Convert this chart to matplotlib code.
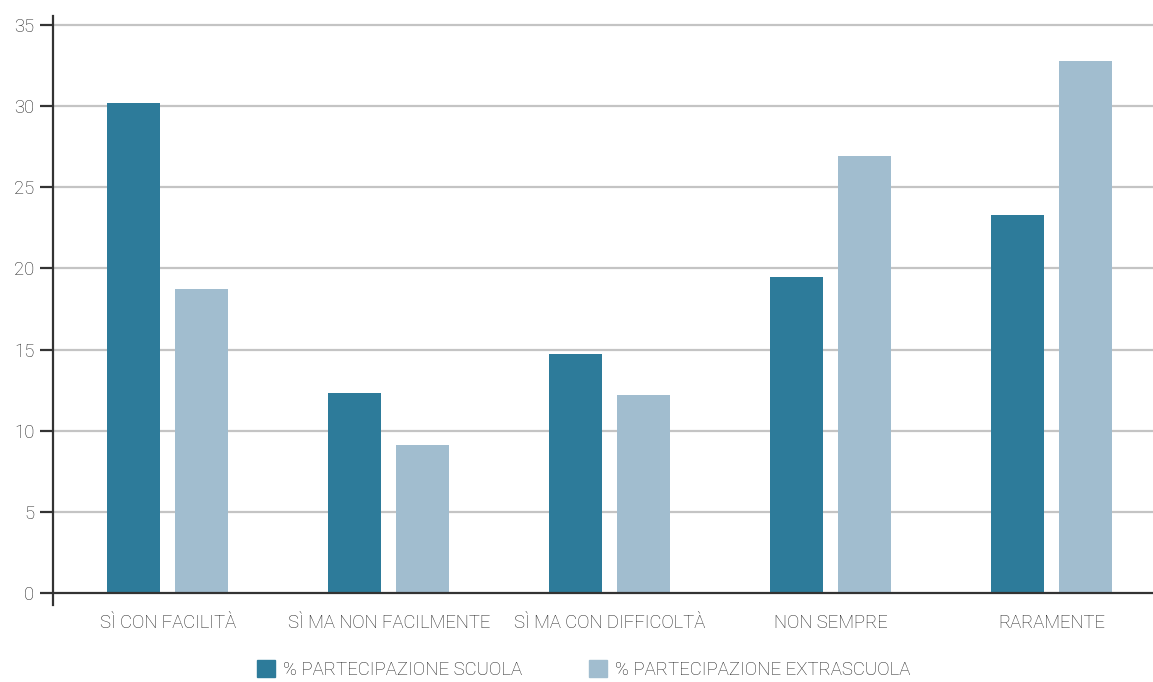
import matplotlib.pyplot as plt
from matplotlib.patches import Patch
import numpy as np

plt.rcParams['font.family'] = ['Roboto', 'DejaVu Sans']
plt.rcParams['font.weight'] = 'light'

categories = ['SÌ CON FACILITÀ', 'SÌ MA NON FACILMENTE', 'SÌ MA CON DIFFICOLTÀ', 'NON SEMPRE', 'RARAMENTE']
scuola = [30.2, 12.3, 14.7, 19.5, 23.3]
extrascuola = [18.7, 9.1, 12.2, 26.9, 32.8]
series_names = ['% PARTECIPAZIONE SCUOLA', '% PARTECIPAZIONE EXTRASCUOLA']
dark = '#2d7b9a'
light = '#a1bdcf'
txt = '#222222'

fig = plt.figure(figsize=(11.53, 6.82), dpi=100)
ax = fig.add_axes([0.046, 0.1129, 0.954, 0.8636])

x = np.arange(len(categories))
w = 0.24
off = 0.154
ax.bar(x - off, scuola, w, color=dark, zorder=3)
ax.bar(x + off, extrascuola, w, color=light, zorder=3)

ax.set_xlim(-0.52, 4.46)
ax.set_ylim(-0.74, 35.55)
ax.set_yticks(range(0, 36, 5))
for v in range(5, 36, 5):
    ax.axhline(v, color='#c4c4c4', lw=1.6, zorder=1)
ax.axhline(0, color='#333333', lw=1.6, zorder=4)

ax.set_xticks(x)
ax.set_xticklabels(categories)
ax.tick_params(axis='x', length=0, pad=6.5, labelsize=13.3, labelcolor=txt)
ax.tick_params(axis='y', length=9.5, width=1.6, color='#333333', labelsize=13.3, labelcolor=txt, pad=4)

for s in ['top', 'right', 'bottom']:
    ax.spines[s].set_visible(False)
ax.spines['left'].set_color('#333333')
ax.spines['left'].set_linewidth(1.6)

handles = [Patch(color=dark), Patch(color=light)]
fig.legend(handles, series_names, loc='center', bbox_to_anchor=(0.506, 0.018),
           ncol=2, frameon=False, fontsize=13.4, labelcolor=txt,
           handlelength=1.0, handleheight=1.0, handletextpad=0.4, columnspacing=3.6,
           borderpad=0.1)

fig.savefig('out.png', dpi=100)
